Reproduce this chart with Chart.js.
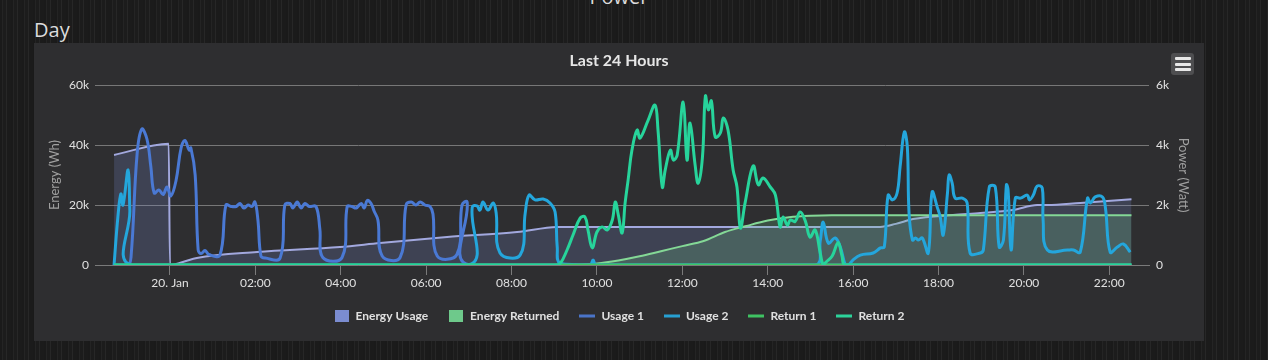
<!DOCTYPE html>
<html>
<head>
<meta charset="utf-8">
<script src="https://cdn.jsdelivr.net/npm/chart.js@4.4.1/dist/chart.umd.min.js"></script>
<style>
html,body{margin:0;padding:0;width:1268px;height:360px;overflow:hidden;}
body{
  position:relative;
  background-color:#1d1d1d;
  background-image:repeating-linear-gradient(90deg,#1a1a1a 0px,#1a1a1a 2px,#242424 2px,#242424 3px,#1c1c1c 3px,#1c1c1c 6px,#272727 6px,#272727 7px,#1b1b1b 7px,#1b1b1b 11px);
  font-family:Lato,"Open Sans",sans-serif;
}
#power{position:absolute;left:0;width:1238px;text-align:center;top:-17px;font:20px "Open Sans",sans-serif;color:#dcdcdc;}
#day{position:absolute;left:34px;top:16px;font:20px "Open Sans",sans-serif;color:#dcdcdc;}
#panel{position:absolute;left:34px;top:43px;width:1170px;height:298px;background:#2e2e30;}
#chart{position:absolute;left:0;top:0;}
#menu{position:absolute;left:1137px;top:10px;width:23px;height:22px;background:#4e4e50;border-radius:3px;}
#menu span{position:absolute;left:4px;width:16px;height:3px;background:#e8e8e8;border-radius:1px;}
</style>
</head>
<body>
<div id="power">Power</div>
<div id="day">Day</div>
<div id="panel">
  <canvas id="chart" width="1170" height="298" style="width:1170px;height:298px"></canvas>
  <div id="menu"><span style="top:4px"></span><span style="top:9.5px"></span><span style="top:15px"></span></div>
</div>
<script>
// ---- tick positions / labels (hours relative to 20 Jan 00:00) ----
const xTicks = [0, 2, 4, 6, 8, 10, 12, 14, 16, 18, 20, 22];
const xTickLabels = ['20. Jan', '02:00', '04:00', '06:00', '08:00', '10:00', '12:00', '14:00', '16:00', '18:00', '20:00', '22:00'];
const energyTicks = [0, 20000, 40000, 60000];
const energyTickLabels = ['0', '20k', '40k', '60k'];
const powerTicks = [0, 2000, 4000, 6000];
const powerTickLabels = ['0', '2k', '4k', '6k'];

// ---- Energy Usage (Wh) ----
const energyUsageT = [-1.31, -0.03, 0.0, 0.3, 0.63, 2.04, 3.98, 4.92, 6.49, 8.13, 9.06, 9.3, 14.5, 16.63, 17.0, 17.4, 18.34, 18.98, 19.74, 20.31, 20.55, 21.32, 22.52];
const energyUsageV = [36700, 40400, 0, 1000, 2330, 4330, 6000, 7330, 9330, 11000, 12670, 12700, 12700, 12700, 13700, 15300, 16700, 17300, 18300, 20000, 20000, 20700, 21900];

// ---- Energy Returned (Wh) ----
const energyReturnedT = [-1.31, 9.0, 9.5, 10.0, 10.5, 11.0, 11.5, 12.0, 12.5, 13.0, 13.5, 14.0, 14.5, 15.0, 15.5, 22.52];
const energyReturnedV = [0, 0, 150, 500, 1500, 2900, 4600, 6300, 8000, 11000, 13000, 14800, 15900, 16400, 16600, 16600];

// ---- Usage 1 (W) ----
const usage1T = [-1.31, -0.98, -0.91, -0.77, -0.66, -0.54, -0.45, -0.37, -0.26, -0.16, -0.07, 0.02, 0.14, 0.26, 0.35, 0.45, 0.49, 0.59, 0.66, 0.73, 0.82, 0.91, 1.17, 1.31, 1.43, 1.55, 1.64, 1.73, 1.83, 1.92, 1.99, 2.06, 2.13, 2.23, 2.58, 2.69, 2.81, 2.88, 2.98, 3.07, 3.16, 3.26, 3.42, 3.51, 3.58, 4.03, 4.15, 4.26, 4.36, 4.48, 4.55, 4.62, 4.71, 4.78, 4.87, 4.97, 5.39, 5.53, 5.65, 5.76, 5.86, 5.97, 6.09, 6.16, 6.26, 6.72, 6.84, 6.96, 7.03, 22.52];
const usage1V = [0, 0, 300, 3700, 4530, 4200, 3300, 2400, 2500, 2350, 2600, 2300, 2800, 3900, 4150, 3830, 3900, 3000, 500, 380, 480, 350, 330, 2000, 1950, 1950, 2050, 1900, 2000, 1950, 2100, 1500, 300, 230, 230, 2000, 2050, 1900, 2100, 1900, 2050, 1950, 1950, 1200, 250, 250, 1950, 1950, 1900, 2050, 1900, 2150, 2050, 1800, 1500, 300, 250, 2000, 2100, 2000, 2100, 2000, 1950, 1700, 300, 350, 2000, 2100, 0, 0];

// ---- Usage 2 (W) ----
const usage2T = [-1.31, -1.22, -1.15, -1.10, -0.98, -0.94, -0.89, 6.98, 7.08, 7.19, 7.26, 7.33, 7.45, 7.57, 7.64, 7.73, 8.20, 8.32, 8.41, 8.55, 8.74, 8.90, 9.02, 9.07, 9.14, 9.84, 9.91, 9.98, 15.11, 15.23, 15.30, 15.42, 15.58, 15.70, 15.82, 15.89, 16.00, 16.17, 16.47, 16.64, 16.73, 16.82, 16.92, 17.03, 17.10, 17.20, 17.27, 17.31, 17.39, 17.46, 17.53, 17.62, 17.76, 17.85, 17.97, 18.04, 18.11, 18.21, 18.25, 18.32, 18.39, 18.56, 18.67, 18.74, 18.98, 19.05, 19.19, 19.33, 19.42, 19.52, 19.59, 19.63, 19.70, 19.80, 19.92, 20.08, 20.13, 20.22, 20.31, 20.43, 20.45, 20.55, 21.02, 21.16, 21.32, 21.49, 21.56, 21.67, 21.84, 21.91, 22.02, 22.19, 22.33, 22.49];
const usage2V = [0, 1600, 2370, 2000, 3170, 1830, 0, 0, 1930, 1970, 1830, 2100, 1830, 2070, 1730, 400, 330, 1730, 2330, 2170, 2200, 2070, 1770, 600, 50, 0, 170, 0, 0, 800, 1430, 730, 900, 600, 0, 0, 170, 330, 400, 570, 600, 2330, 2170, 2400, 3270, 4430, 3930, 1730, 830, 900, 830, 900, 400, 2430, 1930, 1600, 1000, 2400, 3000, 2730, 2230, 2230, 2070, 400, 400, 500, 2600, 2600, 600, 830, 2670, 2500, 500, 2230, 2230, 2330, 2170, 2330, 2630, 2570, 1500, 500, 500, 500, 430, 2230, 2070, 2270, 2270, 1900, 430, 600, 700, 430];

// ---- Return 1 (W) ----
const return1T = [-1.31, 22.52];
const return1V = [0, 0];

// ---- Return 2 (W) ----
const return2T = [-1.31, 9.02, 9.14, 9.30, 9.44, 9.61, 9.72, 9.79, 9.89, 10.00, 10.12, 10.24, 10.36, 10.43, 10.50, 10.59, 10.66, 10.73, 10.82, 10.94, 11.01, 11.20, 11.36, 11.43, 11.53, 11.60, 11.72, 11.79, 11.88, 12.02, 12.11, 12.18, 12.30, 12.37, 12.47, 12.54, 12.61, 12.68, 12.77, 12.89, 12.96, 13.07, 13.19, 13.28, 13.36, 13.47, 13.66, 13.78, 13.89, 14.06, 14.18, 14.29, 14.36, 14.46, 14.53, 14.64, 14.76, 14.88, 14.99, 15.11, 15.23, 15.30, 15.37, 15.51, 15.65, 15.74, 15.82, 22.52];
const return2V = [0, 0, 50, 500, 1000, 1570, 1600, 1170, 570, 1100, 1270, 1170, 1500, 2100, 1670, 1070, 2070, 2830, 3830, 4500, 4230, 4830, 5330, 4500, 2600, 3170, 3830, 3500, 3670, 5430, 3500, 4730, 3330, 2730, 3570, 5630, 5170, 5470, 4270, 4400, 4900, 4500, 3170, 2600, 1230, 2070, 3300, 2670, 2900, 2600, 2330, 1270, 1600, 1330, 1500, 1450, 1770, 1470, 930, 1170, 400, 0, 100, 300, 750, 300, 0, 0];

function pts(t, v) { return t.map((x, i) => ({ x: x, y: v[i] })); }

function boxIcon(color) {
  const c = document.createElement('canvas'); c.width = 14; c.height = 12;
  const g = c.getContext('2d'); g.fillStyle = color; g.fillRect(0, 0, 14, 12); return c;
}
function lineIcon(color) {
  const c = document.createElement('canvas'); c.width = 16; c.height = 4;
  const g = c.getContext('2d'); g.fillStyle = color; g.fillRect(0, 0.5, 16, 3); return c;
}

const FONT = 'Lato, "Open Sans", sans-serif';
const lineBase = { pointRadius: 0, pointHoverRadius: 0, borderWidth: 3, tension: 0.4, fill: false, yAxisID: 'y1' };

const datasets = [
  { label: 'Energy Usage', data: pts(energyUsageT, energyUsageV), yAxisID: 'y', borderColor: '#a2a8de', backgroundColor: 'rgba(125,140,210,0.22)', fill: 'origin', borderWidth: 2, pointRadius: 0, cubicInterpolationMode: 'monotone', order: 6, legendColor: '#7b8cd0', legendType: 'box' },
  { label: 'Energy Returned', data: pts(energyReturnedT, energyReturnedV), yAxisID: 'y', borderColor: '#84d896', backgroundColor: 'rgba(110,200,140,0.22)', fill: 'origin', borderWidth: 2, pointRadius: 0, cubicInterpolationMode: 'monotone', order: 5, legendColor: '#6ec98b', legendType: 'box' },
  Object.assign({}, lineBase, { label: 'Usage 1', data: pts(usage1T, usage1V), borderColor: '#4a79d4', order: 4, legendColor: '#4a74c8', legendType: 'line' }),
  Object.assign({}, lineBase, { label: 'Usage 2', data: pts(usage2T, usage2V), borderColor: '#24a6dc', order: 3, legendColor: '#27a0d2', legendType: 'line' }),
  Object.assign({}, lineBase, { label: 'Return 1', data: pts(return1T, return1V), borderColor: '#3fc765', order: 2, legendColor: '#3fc262', legendType: 'line' }),
  Object.assign({}, lineBase, { label: 'Return 2', data: pts(return2T, return2V), borderColor: '#27d49b', order: 1, legendColor: '#2cd39a', legendType: 'line' })
];

new Chart(document.getElementById('chart'), {
  type: 'line',
  data: { datasets: datasets },
  options: {
    responsive: false,
    animation: false,
    devicePixelRatio: 1,
    events: [],
    layout: { padding: { left: 0, right: 0, top: 0, bottom: 9 } },
    plugins: {
      tooltip: { enabled: false },
      title: { display: true, text: 'Last 24 Hours', color: '#e6e6e6', font: { family: FONT, size: 16, weight: 'bold' }, padding: { top: 8, bottom: 14.8 } },
      legend: {
        position: 'bottom',
        labels: {
          color: '#e0e0e0',
          font: { family: FONT, size: 12, weight: 'bold' },
          padding: 20,
          usePointStyle: true,
          pointStyleWidth: 16,
          boxHeight: 12,
          generateLabels: (chart) => chart.data.datasets.map((ds, i) => ({
            text: ds.label,
            fillStyle: ds.legendColor,
            strokeStyle: ds.legendColor,
            lineWidth: 0,
            hidden: !chart.isDatasetVisible(i),
            datasetIndex: i,
            fontColor: '#e0e0e0',
            pointStyle: ds.legendType === 'box' ? boxIcon(ds.legendColor) : lineIcon(ds.legendColor)
          })),
          sort: (a, b) => a.datasetIndex - b.datasetIndex
        }
      }
    },
    scales: {
      x: {
        type: 'linear',
        position: 'bottom',
        min: -1.756,
        max: 22.93,
        afterBuildTicks: (s) => { s.ticks = xTicks.map(v => ({ value: v })); },
        afterFit: (s) => { s.height = 25; },
        ticks: {
          color: '#e0e0e0', font: { family: FONT, size: 12 }, padding: 1, maxRotation: 0, autoSkip: false,
          callback: (v) => { const i = xTicks.indexOf(v); return i >= 0 ? xTickLabels[i] : ''; }
        },
        grid: { drawOnChartArea: false, drawTicks: true, tickLength: 10, color: '#7a7a7a' },
        border: { display: true, color: '#7a7a7a' }
      },
      y: {
        position: 'left',
        min: 0, max: 60000,
        afterBuildTicks: (s) => { s.ticks = energyTicks.map(v => ({ value: v })); },
        afterFit: (s) => { s.width = 61; },
        ticks: {
          color: '#e0e0e0', font: { family: FONT, size: 12 }, padding: 6,
          callback: (v) => { const i = energyTicks.indexOf(v); return i >= 0 ? energyTickLabels[i] : ''; }
        },
        grid: { color: '#777777', drawTicks: false, lineWidth: 1 },
        border: { display: false },
        title: { display: true, text: 'Energy (Wh)', color: '#a0a0a0', font: { family: FONT, size: 13 }, padding: { top: 13, bottom: 0 } }
      },
      y1: {
        position: 'right',
        min: 0, max: 6000,
        afterBuildTicks: (s) => { s.ticks = powerTicks.map(v => ({ value: v })); },
        afterFit: (s) => { s.width = 55; },
        ticks: {
          color: '#e0e0e0', font: { family: FONT, size: 12 }, padding: 7,
          callback: (v) => { const i = powerTicks.indexOf(v); return i >= 0 ? powerTickLabels[i] : ''; }
        },
        grid: { drawOnChartArea: false, drawTicks: false },
        border: { display: false },
        title: { display: true, text: 'Power (Watt)', color: '#a0a0a0', font: { family: FONT, size: 13 }, padding: { top: 13, bottom: 0 } }
      }
    }
  }
});
</script>
</body>
</html>
